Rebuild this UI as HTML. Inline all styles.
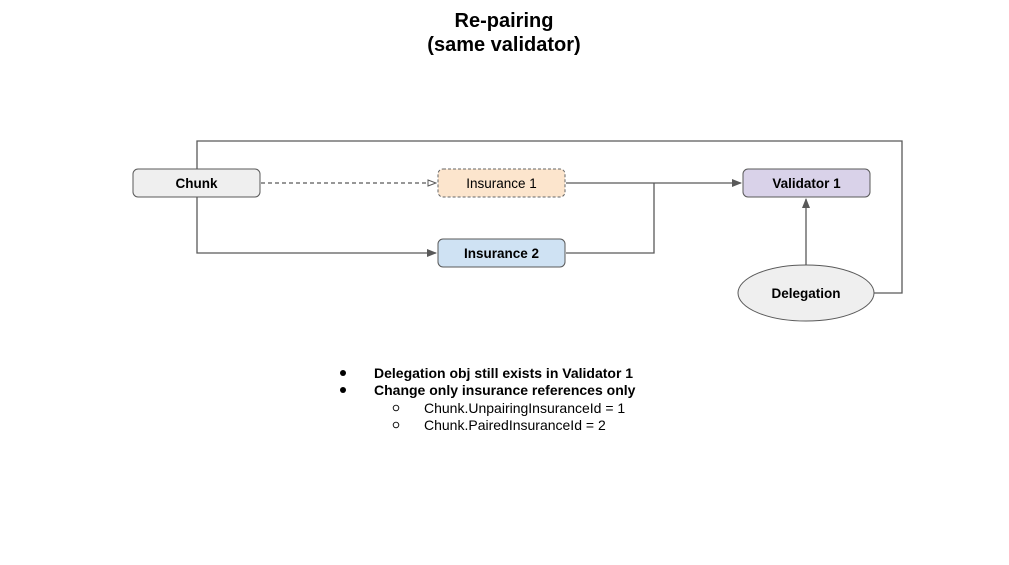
<!DOCTYPE html>
<html><head><meta charset="utf-8"><style>
html,body{margin:0;padding:0;background:#fff;}
svg{display:block;font-family:"Liberation Sans",Arial,sans-serif;}
</style></head><body>
<svg width="1009" height="565" viewBox="0 0 1009 565" xmlns="http://www.w3.org/2000/svg">
<defs>
<marker id="a" markerWidth="10" markerHeight="8" refX="9" refY="4" orient="auto" markerUnits="userSpaceOnUse"><path d="M0,0 L10,4 L0,8 z" fill="#595959"/></marker>
<marker id="o" markerWidth="10" markerHeight="8" refX="9" refY="4" orient="auto" markerUnits="userSpaceOnUse"><path d="M1,1 L9,4 L1,7 z" fill="#fff" stroke="#595959" stroke-width="1"/></marker>
</defs>
<text x="504" y="27" font-size="20" font-weight="bold" text-anchor="middle" fill="#000">Re-pairing</text>
<text x="504" y="51" font-size="20" font-weight="bold" text-anchor="middle" fill="#000">(same validator)</text>
<g fill="none" stroke="#595959" stroke-width="1.3">
<polyline points="197,169 197,141 902,141 902,293 874,293"/>
<polyline points="197,197 197,253 436,253" marker-end="url(#a)"/>
<line x1="261" y1="183" x2="436" y2="183" stroke-dasharray="4,3" marker-end="url(#o)"/>
<line x1="566" y1="183" x2="741" y2="183" marker-end="url(#a)"/>
<polyline points="566,253 654,253 654,183"/>
<line x1="806" y1="265" x2="806" y2="199" marker-end="url(#a)"/>
</g>
<rect x="133" y="169" width="127" height="28" rx="5" fill="#efefef" stroke="#595959"/>
<text x="196.5" y="188" font-size="13.5" font-weight="bold" text-anchor="middle">Chunk</text>
<rect x="438" y="169" width="127" height="28" rx="5" fill="#fce5cd" stroke="#666" stroke-dasharray="3,2"/>
<text x="501.5" y="188" font-size="13.5" text-anchor="middle">Insurance 1</text>
<rect x="438" y="239" width="127" height="28" rx="5" fill="#cfe2f3" stroke="#595959"/>
<text x="501.5" y="258" font-size="13.5" font-weight="bold" text-anchor="middle">Insurance 2</text>
<rect x="743" y="169" width="127" height="28" rx="5" fill="#d9d2e9" stroke="#595959"/>
<text x="806.5" y="188" font-size="13.5" font-weight="bold" text-anchor="middle">Validator 1</text>
<ellipse cx="806" cy="293" rx="68" ry="28" fill="#efefef" stroke="#595959"/>
<text x="806" y="298" font-size="13.5" font-weight="bold" text-anchor="middle">Delegation</text>
<g font-size="14">
<circle cx="343" cy="373" r="3" fill="#000"/>
<text x="374" y="378" font-weight="bold">Delegation obj still exists in Validator 1</text>
<circle cx="343" cy="390" r="3" fill="#000"/>
<text x="374" y="395" font-weight="bold">Change only insurance references only</text>
<circle cx="396" cy="408" r="2.8" fill="none" stroke="#000" stroke-width="0.9"/>
<text x="424" y="413">Chunk.UnpairingInsuranceId = 1</text>
<circle cx="396" cy="425" r="2.8" fill="none" stroke="#000" stroke-width="0.9"/>
<text x="424" y="430">Chunk.PairedInsuranceId = 2</text>
</g>
</svg>
</body></html>
